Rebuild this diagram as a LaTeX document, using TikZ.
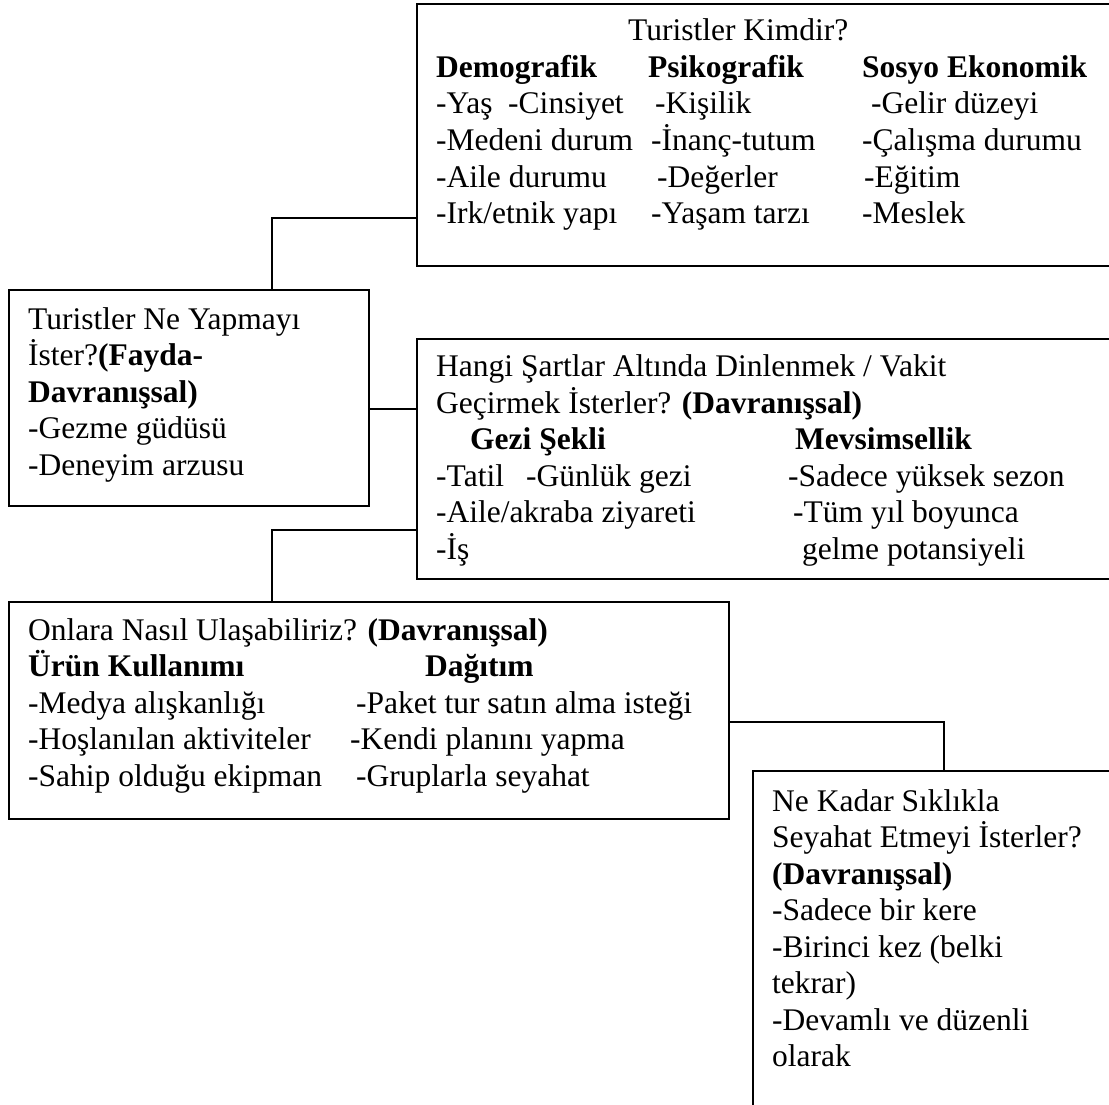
\documentclass[tikz,border=0pt]{standalone}
\usepackage{fontspec}
\setmainfont{Liberation Serif}
\begin{document}
\begin{tikzpicture}[x=1pt,y=-1pt,
  box/.style={draw, line width=2.2pt, inner sep=0pt, anchor=north west},
  txt/.style={anchor=base west, inner sep=0pt, font=\fontsize{31.5}{36.5}\selectfont},
  link/.style={line width=2.2pt}]
\useasboundingbox (0,0) rectangle (1109,1105);
\clip (0,0) rectangle (1109,1105);
\fill[white] (0,0) rectangle (1109,1105);

% boxes
\node[box, minimum width=720pt, minimum height=262pt] (kim) at (416,3) {};
\node[box, minimum width=360pt, minimum height=216pt] (fayda) at (8,289) {};
\node[box, minimum width=720pt, minimum height=240pt] (sart) at (416,338) {};
\node[box, minimum width=720pt, minimum height=217pt] (ulas) at (8,601) {};
\node[box, minimum width=400pt, minimum height=360pt] (sik) at (752,770) {};

% connectors
\draw[link] ([yshift=-215pt]kim.north west) -| ([xshift=264pt]fayda.north west);
\draw[link] ([yshift=-120pt]fayda.north east) -- (fayda.north east |- 0,409) -- (sart.west |- 0,409);
\draw[link] ([yshift=-192pt]sart.north west) -| ([xshift=264pt]ulas.north west);
\draw[link] ([yshift=-121pt]ulas.north east) -| ([xshift=192pt]sik.north west);

% Turistler Kimdir?
\node[txt] (k0) at (628,41) {Turistler Kimdir?};
\node[txt] (k1a) at (436,77.5) {\textbf{Demografik}};
\node[txt] (k1b) at (648,77.5) {\textbf{Psikografik}};
\node[txt] (k1c) at (862,77.5) {\textbf{Sosyo Ekonomik}};
\node[txt] (k2a) at (436,114) {-Yaş\ \ -Cinsiyet};
\node[txt] (k2b) at (655,114) {-Kişilik};
\node[txt] (k2c) at (871,114) {-Gelir düzeyi};
\node[txt] (k3a) at (436,150.5) {-Medeni durum};
\node[txt] (k3b) at (651,150.5) {-İnanç-tutum};
\node[txt] (k3c) at (862,150.5) {-Çalışma durumu};
\node[txt] (k4a) at (436,187) {-Aile durumu};
\node[txt] (k4b) at (657,187) {-Değerler};
\node[txt] (k4c) at (864,187) {-Eğitim};
\node[txt] (k5a) at (436,223.5) {-Irk/etnik yapı};
\node[txt] (k5b) at (651,223.5) {-Yaşam tarzı};
\node[txt] (k5c) at (862,223.5) {-Meslek};

% Turistler Ne Yapmayı İster?
\node[txt] (f1) at (28,329) {Turistler Ne Yapmayı};
\node[txt] (f2) at (28,365.5) {İster?\textbf{(Fayda-}};
\node[txt] (f3) at (28,402) {\textbf{Davranışsal)}};
\node[txt] (f4) at (28,438.5) {-Gezme güdüsü};
\node[txt] (f5) at (28,475) {-Deneyim arzusu};

% Hangi Şartlar Altında ...
\node[txt] (s1) at (436,376.5) {Hangi Şartlar Altında Dinlenmek / Vakit};
\node[txt] (s2) at (436,413) {Geçirmek İsterler? \textbf{(Davranışsal)}};
\node[txt] (s3a) at (470,449.5) {\textbf{Gezi Şekli}};
\node[txt] (s3b) at (795,449.5) {\textbf{Mevsimsellik}};
\node[txt] (s4a) at (436,486) {-Tatil};
\node[txt] (s4b) at (526,486) {-Günlük gezi};
\node[txt] (s4c) at (788,486) {-Sadece yüksek sezon};
\node[txt] (s5a) at (436,522.5) {-Aile/akraba ziyareti};
\node[txt] (s5b) at (793,522.5) {-Tüm yıl boyunca};
\node[txt] (s6a) at (436,559) {-İş};
\node[txt] (s6b) at (802,559) {gelme potansiyeli};

% Onlara Nasıl Ulaşabiliriz?
\node[txt] (u1) at (28,640) {Onlara Nasıl Ulaşabiliriz? \textbf{(Davranışsal)}};
\node[txt] (u2a) at (28,676.5) {\textbf{Ürün Kullanımı}};
\node[txt] (u2b) at (425,676.5) {\textbf{Dağıtım}};
\node[txt] (u3a) at (28,713) {-Medya alışkanlığı};
\node[txt] (u3b) at (356,713) {-Paket tur satın alma isteği};
\node[txt] (u4a) at (28,749.5) {-Hoşlanılan aktiviteler};
\node[txt] (u4b) at (350,749.5) {-Kendi planını yapma};
\node[txt] (u5a) at (28,786) {-Sahip olduğu ekipman};
\node[txt] (u5b) at (356,786) {-Gruplarla seyahat};

% Ne Kadar Sıklıkla ...
\node[txt] (n1) at (772,811) {Ne Kadar Sıklıkla};
\node[txt] (n2) at (772,847.5) {Seyahat Etmeyi İsterler?};
\node[txt] (n3) at (772,884) {\textbf{(Davranışsal)}};
\node[txt] (n4) at (772,920.5) {-Sadece bir kere};
\node[txt] (n5) at (772,957) {-Birinci kez (belki};
\node[txt] (n6) at (772,993.5) {tekrar)};
\node[txt] (n7) at (772,1030) {-Devamlı ve düzenli};
\node[txt] (n8) at (772,1066.5) {olarak};
\end{tikzpicture}
\end{document}
